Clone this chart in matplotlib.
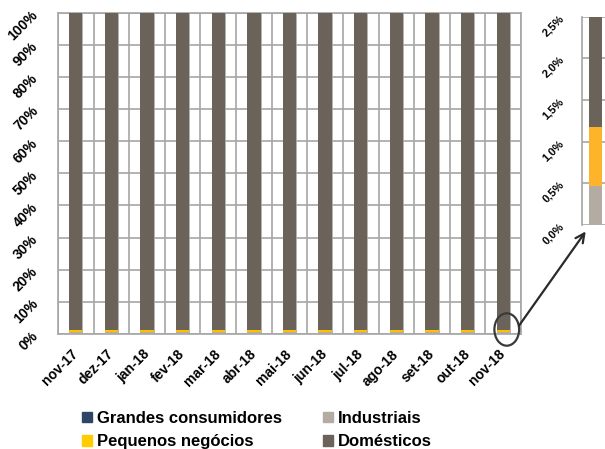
import matplotlib
matplotlib.use("Agg")
import matplotlib.pyplot as plt
from matplotlib.patches import Ellipse, Patch
import numpy as np

months = ["nov-17", "dez-17", "jan-18", "fev-18", "mar-18", "abr-18", "mai-18",
          "jun-18", "jul-18", "ago-18", "set-18", "out-18", "nov-18"]
grandes = [0.0] * 13
industriais = [0.47] * 13
pequenos = [0.70] * 13
domesticos = [98.83] * 13

yticks_main = [0, 10, 20, 30, 40, 50, 60, 70, 80, 90, 100]
yticks_inset = [0.0, 0.5, 1.0, 1.5, 2.0, 2.5]

c_grandes = "#2E4666"
c_ind = "#B4ABA3"
c_peq = "#FFC000"
c_peq_inset = "#FDB32A"
c_dom = "#6B6259"
grid_c = "#A6A6A6"

plt.rcParams["font.family"] = ["Liberation Sans", "DejaVu Sans"]
plt.rcParams["font.weight"] = "bold"

W, H = 605, 449
fig = plt.figure(figsize=(W / 100, H / 100), dpi=100)

ax = fig.add_axes([58 / W, 1 - 334 / H, 463 / W, 321.5 / H])
x = np.arange(len(months))
bw = 0.375

g = np.array(grandes)
i_ = np.array(industriais)
p = np.array(pequenos)
d = np.array(domesticos)
ax.bar(x, g, bw, color=c_grandes, zorder=3)
ax.bar(x, i_, bw, bottom=g, color=c_ind, zorder=3)
ax.bar(x, p, bw, bottom=g + i_, color=c_peq, zorder=3)
ax.bar(x, d, bw, bottom=g + i_ + p, color=c_dom, zorder=3)

ax.set_xlim(-0.5, len(months) - 0.5)
ax.set_ylim(0, 100)
ax.set_yticks(yticks_main)
ax.set_yticklabels([f"{v}%" for v in yticks_main])
ax.set_xticks(x)
ax.set_xticklabels(months)
ax.tick_params(length=0)
ax.tick_params(axis="y", pad=16, labelsize=10)
ax.tick_params(axis="x", pad=13, labelsize=10)
for lab in ax.get_yticklabels():
    lab.set_rotation(45)
    lab.set_rotation_mode("anchor")
    lab.set_ha("right")
    lab.set_va("center")
for lab in ax.get_xticklabels():
    lab.set_rotation(45)
    lab.set_rotation_mode("anchor")
    lab.set_ha("right")
    lab.set_va("center")

for v in yticks_main:
    ax.axhline(v, color=grid_c, lw=1.2, zorder=1)
for k in np.arange(-0.5, len(months)):
    ax.axvline(k, color=grid_c, lw=1.2, zorder=1)
for k in x:
    ax.axvline(k + bw / 2, color=grid_c, lw=1.2, zorder=1)
for s in ax.spines.values():
    s.set_color(grid_c)
    s.set_linewidth(1.2)

# inset zoom on last month
axi = fig.add_axes([581.7 / W, 1 - 225 / H, 30 / W, 208.5 / H])
last = len(months) - 1
axi.bar(0, industriais[last], 1, bottom=grandes[last], color=c_ind, zorder=3)
axi.bar(0, pequenos[last], 1, bottom=grandes[last] + industriais[last], color=c_peq_inset, zorder=3)
axi.bar(0, domesticos[last], 1, bottom=grandes[last] + industriais[last] + pequenos[last],
        color=c_dom, zorder=3)
axi.set_xlim(-13.8 / 12.4, 16.2 / 12.4)
axi.set_ylim(0, 2.5)
axi.set_yticks(yticks_inset)
axi.set_yticklabels([f"{v:.1f}%".replace(".", ",") for v in yticks_inset])
axi.set_xticks([])
axi.tick_params(length=0, axis="y", pad=14, labelsize=8)
for lab in axi.get_yticklabels():
    lab.set_rotation(45)
    lab.set_rotation_mode("anchor")
    lab.set_ha("right")
    lab.set_va("center")
for v in yticks_inset:
    axi.axhline(v, color=grid_c, lw=1.2, zorder=1)
for name, s in axi.spines.items():
    s.set_visible(name == "left")
    s.set_color(grid_c)
    s.set_linewidth(1.2)

# highlight + arrow
ell = Ellipse((12.1, 1.4), 24.7 / 35.6, 32.4 / 321.5 * 100, fill=False,
              edgecolor="#3A3A3A", lw=1.6, clip_on=False, zorder=5)
ax.add_patch(ell)
axi.annotate("", xy=(-0.66, -0.05), xycoords=axi.transData,
             xytext=(12.4, 1.9), textcoords=ax.transData,
             arrowprops=dict(arrowstyle="->", color="#2A2A2A", lw=1.6,
                             mutation_scale=16),
             annotation_clip=False)

# legend in two anchored columns
leg_kw = dict(loc="upper left", frameon=False, fontsize=12, handlelength=0.6,
              handleheight=0.6, handletextpad=0.3, labelspacing=0.5, borderpad=0,
              borderaxespad=0)
fig.legend(handles=[Patch(color=c_grandes, label="Grandes consumidores"),
                    Patch(color="#FFCC00", label="Pequenos negócios")],
           bbox_to_anchor=(82 / W, 1 - 411 / H), **leg_kw)
fig.legend(handles=[Patch(color=c_ind, label="Industriais"),
                    Patch(color=c_dom, label="Domésticos")],
           bbox_to_anchor=(322.7 / W, 1 - 411 / H), **leg_kw)

plt.savefig("out.png", dpi=100)
